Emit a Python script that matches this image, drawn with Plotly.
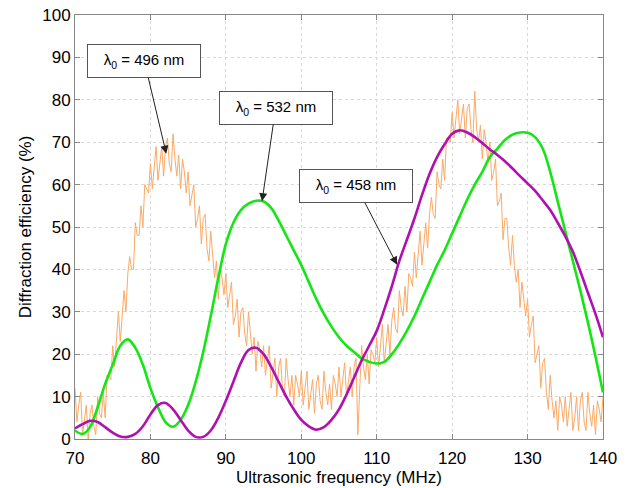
import plotly.graph_objects as go

# ---------------- data ----------------
freq_1mhz = list(range(70, 141))

eff_458 = [2.5, 3.5, 4.3, 4.0, 2.8, 1.5, 0.6, 0.5, 1.2, 3.0,
           5.8, 8.0, 8.5, 7.0, 4.5, 2.0, 0.5, 0.5, 2.0, 5.0,
           9.0, 13.5, 18.0, 21.0, 21.5, 20.0, 17.0, 13.5, 10.0, 7.0,
           4.5, 3.0, 2.2, 2.8, 4.5, 7.0, 10.5, 14.5, 18.5, 22.0,
           25.5, 30.5, 36.0, 42.0, 47.0, 52.0, 57.5, 62.5, 66.5, 69.5,
           72.0, 72.8, 72.3, 71.2, 69.8, 68.3, 67.0, 65.5, 63.8, 62.0,
           60.3, 58.5, 56.3, 54.0, 51.0, 47.8, 44.2, 39.5, 34.5, 29.5,
           24.0]

eff_532 = [2.0, 1.2, 2.8, 7.5, 13.0, 17.5, 22.0, 23.5, 21.5, 17.5,
           12.0, 7.5, 4.0, 2.9, 4.5, 8.0, 13.5, 20.5, 29.0, 38.0,
           46.0, 51.0, 54.0, 55.5, 56.2, 56.0, 54.5, 51.5, 48.0, 44.5,
           41.0, 37.0, 33.0, 29.5, 26.5, 24.0, 22.0, 20.5, 19.0, 18.2,
           17.8, 18.2, 20.0, 22.5, 25.5, 29.0, 33.0, 37.0, 41.0, 44.5,
           48.5, 52.5, 56.5, 60.0, 63.0, 66.5, 68.5, 70.5, 71.8, 72.3,
           72.2, 71.2, 68.5, 63.0, 56.0, 49.0, 42.0, 35.0, 27.5, 19.5,
           11.0]

freq_fine = [70 + 0.25 * i for i in range(281)]

eff_496 = [12, 4, 8, 11, 1, 4, 8, 0, 6, 8, 3, 1, 10, 6, 5, 11,
           5, 15, 15, 14, 22, 17, 24, 30, 23, 29, 35, 30, 39, 43, 40, 40,
           51, 48, 48, 55, 50, 60, 59, 58, 65, 59, 64, 69, 61, 65, 69, 62,
           69, 71, 65, 63, 72, 66, 62, 67, 59, 66, 63, 58, 63, 55, 58, 60,
           50, 52, 55, 46, 52, 53, 45, 42, 49, 43, 38, 42, 33, 40, 38, 34,
           39, 31, 34, 37, 27, 29, 33, 24, 30, 31, 25, 22, 30, 24, 20, 24,
           16, 23, 21, 17, 22, 15, 18, 22, 12, 15, 19, 10, 17, 19, 12, 10,
           19, 14, 10, 15, 8, 15, 13, 10, 16, 8, 12, 16, 7, 10, 14, 6,
           13, 15, 9, 7, 16, 11, 8, 13, 7, 15, 13, 10, 17, 10, 14, 18,
           10, 13, 17, 10, 17, 19, 1, 12, 22, 17, 14, 20, 13, 21, 20, 18,
           24, 17, 22, 27, 18, 22, 27, 20, 28, 31, 26, 25, 35, 31, 29, 36,
           30, 39, 38, 36, 44, 38, 43, 49, 41, 46, 51, 45, 53, 57, 53, 52,
           63, 60, 59, 66, 61, 71, 71, 70, 77, 71, 75, 80, 72, 75, 79, 71,
           78, 79, 73, 70, 82, 73, 70, 74, 66, 73, 70, 65, 70, 61, 63, 66,
           55, 56, 58, 47, 52, 52, 45, 41, 48, 41, 37, 40, 31, 37, 33, 29,
           33, 24, 27, 29, 18, 20, 22, 12, 18, 19, 11, 7, 15, 9, 5, 9,
           2, 10, 8, 4, 10, 3, 7, 11, 2, 5, 10, 2, 9, 11, 4, 2,
           11, 6, 3, 8, 1, 9, 7, 4, 10]

x_ticks = [70, 80, 90, 100, 110, 120, 130, 140]
y_ticks = [0, 10, 20, 30, 40, 50, 60, 70, 80, 90, 100]

labels = ["λ<sub>0</sub> = 496 nm", "λ<sub>0</sub> = 532 nm", "λ<sub>0</sub> = 458 nm"]
tip_x = [82.1, 94.8, 112.7]
tip_y = [67.3, 56.1, 41.1]
box_x = [79.2, 96.6, 107.3]
box_y = [89.1, 78.1, 59.6]

# ---------------- figure ----------------
FONT = "Arial, Liberation Sans, sans-serif"
fig = go.Figure()
fig.add_trace(go.Scatter(x=freq_fine, y=eff_496, mode="lines",
                         line=dict(color="#FBAA66", width=1), name="496 nm"))
fig.add_trace(go.Scatter(x=freq_1mhz, y=eff_532, mode="lines",
                         line=dict(color="#14E614", width=2.6, shape="spline"), name="532 nm"))
fig.add_trace(go.Scatter(x=freq_1mhz, y=eff_458, mode="lines",
                         line=dict(color="#B010B0", width=2.6, shape="spline"), name="458 nm"))

for lab, tx, ty, bx, by in zip(labels, tip_x, tip_y, box_x, box_y):
    fig.add_annotation(x=tx, y=ty, ax=bx, ay=by, axref="x", ayref="y",
                       text=lab, showarrow=True, arrowhead=2, arrowsize=1.6,
                       arrowwidth=1, arrowcolor="#222222",
                       bgcolor="white", bordercolor="#555555", borderwidth=1,
                       width=110, height=30,
                       font=dict(family=FONT, size=15, color="black"))

axis_common = dict(showline=True, linecolor="#888888", linewidth=1, mirror="ticks",
                   ticks="inside", ticklen=5, tickcolor="#888888",
                   showgrid=True, gridcolor="#d8d8d8", griddash="dot", gridwidth=1,
                   zeroline=False, automargin=False,
                   tickfont=dict(family=FONT, size=17, color="black"))

fig.update_xaxes(range=[70, 140], tickvals=x_ticks, ticklabelstandoff=4,
                 title=dict(text="Ultrasonic frequency (MHz)", standoff=2,
                            font=dict(family=FONT, size=17, color="black")),
                 **axis_common)
fig.update_yaxes(range=[0, 100], tickvals=y_ticks,
                 title=dict(text="Diffraction efficiency (%)", standoff=6,
                            font=dict(family=FONT, size=17, color="black")),
                 **axis_common)

fig.update_layout(width=641, height=488, showlegend=False,
                  margin=dict(l=75, r=38, t=15, b=49),
                  plot_bgcolor="white", paper_bgcolor="white")

# remove the browser's default 8px body margin so the figure fills the window
fig.write_html("out.html", config={"displayModeBar": False},
               post_script="document.body.style.margin='0';")
